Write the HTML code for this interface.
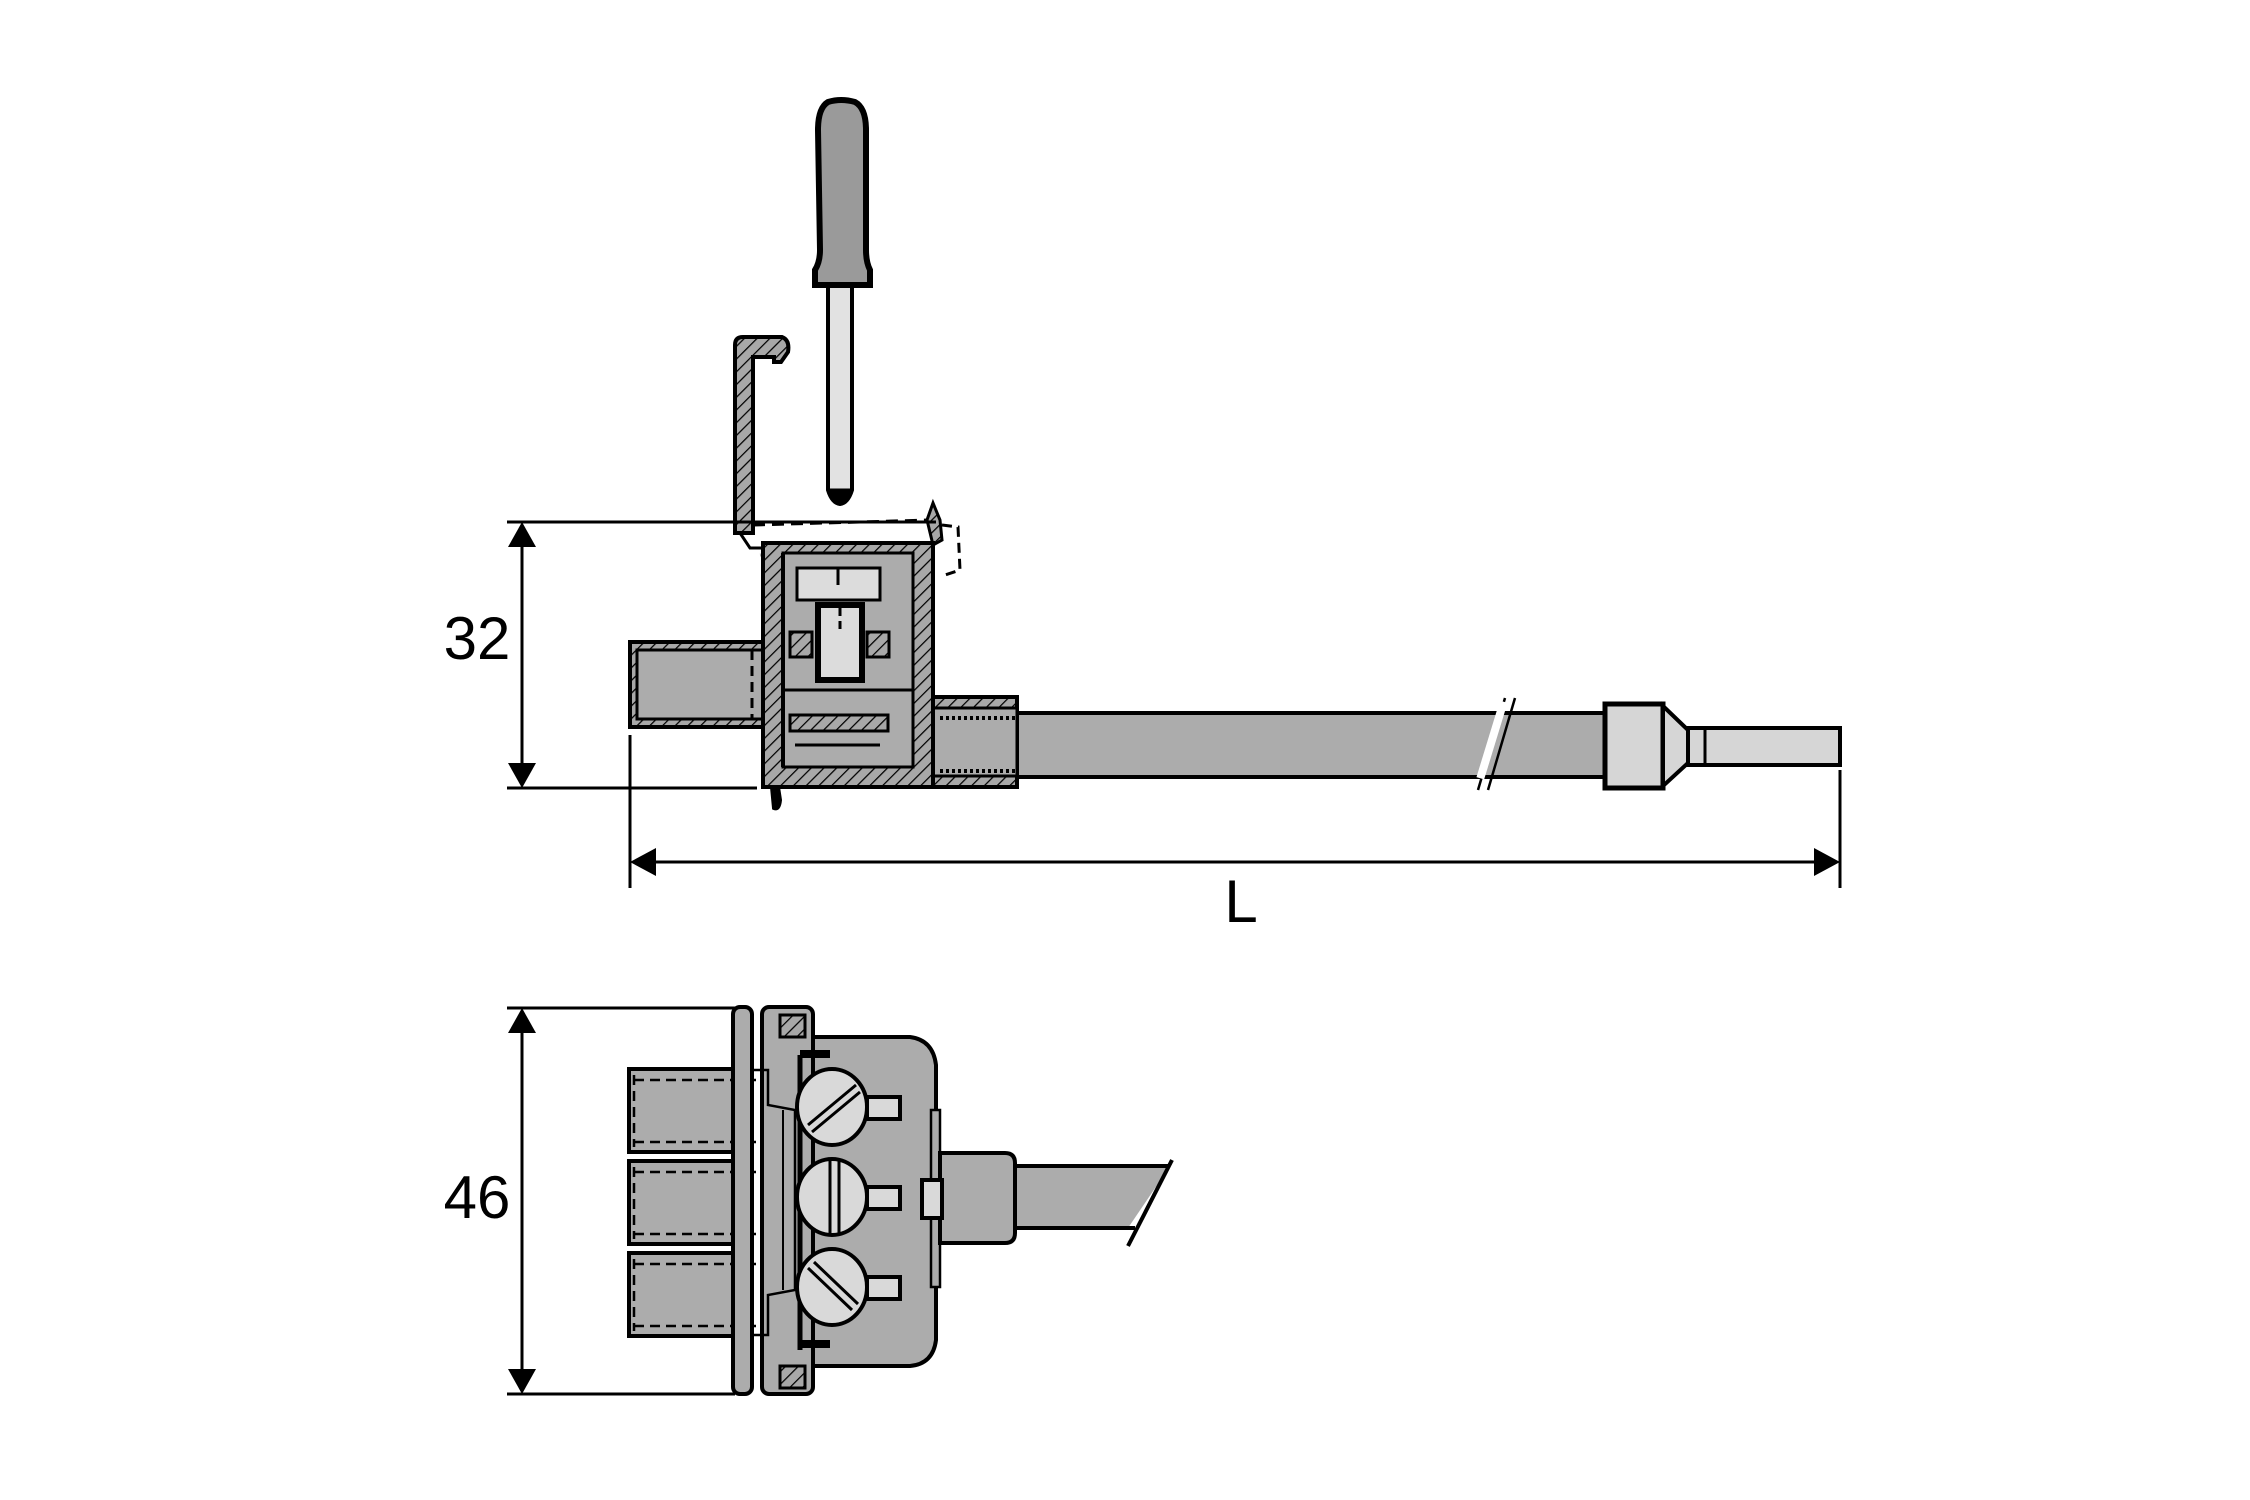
<!DOCTYPE html>
<html><head><meta charset="utf-8"><style>
html,body{margin:0;padding:0;background:#fff}
svg{display:block}
text{font-family:"Liberation Sans",sans-serif;fill:#000}
</style></head><body>
<svg width="2250" height="1500" viewBox="0 0 2250 1500" xmlns="http://www.w3.org/2000/svg">
<defs>
<pattern id="h" patternUnits="userSpaceOnUse" width="9" height="9" patternTransform="rotate(45)">
<rect width="9" height="9" fill="#a8a8a8"/><line x1="0" y1="0" x2="0" y2="9" stroke="#000" stroke-width="2.5"/>
</pattern>
</defs>
<g stroke="#000" stroke-width="3" fill="none">
<path d="M828 102 Q841 98 855 102 Q866 108 866 130 L866 250 Q866 262 870 270 L870 285 L815 285 L815 270 Q820 262 820 250 L818 130 Q818 108 828 102 Z" fill="#9a9a9a" stroke-width="6"/>
<path d="M828 286 L852 286 L852 490 Q848 503 840 504 Q832 503 828 490 Z" fill="#e2e2e2" stroke-width="4"/>
<path d="M828 490 Q832 503 840 504 Q848 503 852 490 Z" fill="#000"/>
<path d="M735 533 L735 345 Q735 337 743 337 L782 337 Q790 340 788 352 L781 362 L774 362 L774 357 L753 357 L753 533 Z" fill="url(#h)" stroke-width="4"/>
<path d="M753 525 L930 520 L933 550 L760 555" stroke-dasharray="12,7"/>
<path d="M933 503 L940 520 L942 540 L933 545 L927 520 Z" fill="url(#h)"/>
<path d="M942 525 L958 527 L960 570 L945 575" stroke-dasharray="10,6"/>
<path d="M740 533 L750 548 L763 548"/>
<line x1="507" y1="522" x2="936" y2="522"/>
<line x1="507" y1="788" x2="757" y2="788"/>
<line x1="522" y1="540" x2="522" y2="770"/>
<line x1="630" y1="735" x2="630" y2="888"/>
<line x1="1840" y1="770" x2="1840" y2="888"/>
<line x1="650" y1="862" x2="1820" y2="862"/>
<line x1="507" y1="1008" x2="735" y2="1008"/>
<line x1="507" y1="1394" x2="735" y2="1394"/>
<line x1="522" y1="1025" x2="522" y2="1377"/>
</g>
<g fill="#000">
<polygon points="522,522 508,547 536,547"/>
<polygon points="522,788 508,763 536,763"/>
<polygon points="630,862 656,848 656,876"/>
<polygon points="1840,862 1814,848 1814,876"/>
<polygon points="522,1008 508,1033 536,1033"/>
<polygon points="522,1394 508,1369 536,1369"/>
</g>
<text x="477" y="659" font-size="60" text-anchor="middle">32</text>
<text x="1241" y="922" font-size="60" text-anchor="middle">L</text>
<text x="477" y="1218" font-size="60" text-anchor="middle">46</text>

<g stroke="#000" stroke-width="4">
<rect x="630" y="642" width="133" height="85" fill="url(#h)"/>
<rect x="637" y="650" width="126" height="69" fill="#acacac" stroke-width="3"/>
<line x1="752" y1="650" x2="752" y2="719" stroke-dasharray="10,6" stroke-width="3"/>
<rect x="1010" y="713" width="598" height="64" fill="#acacac"/>
<path d="M1505 698 L1478 790 M1515 698 L1488 790" stroke-width="2.5"/>
<rect x="1488" y="700" width="8" height="80" fill="#fff" stroke="none" transform="rotate(17 1492 740)"/>
<rect x="1605" y="704" width="58" height="84" fill="#d6d6d6" stroke-width="5"/>
<path d="M1663 706 L1688 730 L1688 763 L1663 786 Z" fill="#d6d6d6"/>
<rect x="1688" y="728" width="152" height="37" fill="#d6d6d6"/>
<line x1="1705" y1="728" x2="1705" y2="765" stroke-width="3"/>
<rect x="930" y="697" width="87" height="90" fill="url(#h)"/>
<rect x="930" y="708" width="87" height="68" fill="#acacac" stroke-width="3"/>
<line x1="940" y1="718" x2="1017" y2="718" stroke-dasharray="3,3" stroke-width="4"/>
<line x1="940" y1="771" x2="1017" y2="771" stroke-dasharray="3,3" stroke-width="4"/>
<path d="M763 543 L933 543 L933 787 L763 787 Z" fill="url(#h)"/>
<rect x="783" y="553" width="130" height="214" fill="#acacac" stroke-width="3"/>
<rect x="797" y="568" width="83" height="32" fill="#dcdcdc" stroke-width="3"/>
<line x1="838" y1="568" x2="838" y2="585" stroke-width="3"/>
<rect x="818" y="605" width="44" height="75" fill="#dcdcdc" stroke-width="6"/>
<line x1="840" y1="608" x2="840" y2="630" stroke-dasharray="8,5" stroke-width="3"/>
<rect x="790" y="632" width="22" height="25" fill="url(#h)" stroke-width="3"/>
<rect x="867" y="632" width="22" height="25" fill="url(#h)" stroke-width="3"/>
<rect x="790" y="715" width="98" height="16" fill="url(#h)" stroke-width="3"/>
<line x1="783" y1="690" x2="913" y2="690" stroke-width="3"/>
<line x1="795" y1="745" x2="880" y2="745" stroke-width="3"/>
<line x1="783" y1="553" x2="783" y2="767"/>
<path d="M778 787 L780 800 Q779 810 774 808 L772 787" fill="#000"/>
<rect x="629" y="1069" width="123" height="83" fill="#acacac"/>
<rect x="629" y="1161" width="123" height="83" fill="#acacac"/>
<rect x="629" y="1253" width="123" height="83" fill="#acacac"/>
<g stroke-dasharray="10,6" stroke-width="2.5" fill="none">
<line x1="634" y1="1080" x2="800" y2="1080"/><line x1="634" y1="1142" x2="800" y2="1142"/>
<line x1="634" y1="1172" x2="800" y2="1172"/><line x1="634" y1="1234" x2="800" y2="1234"/>
<line x1="634" y1="1264" x2="800" y2="1264"/><line x1="634" y1="1326" x2="800" y2="1326"/>
<line x1="634" y1="1075" x2="634" y2="1147"/><line x1="634" y1="1167" x2="634" y2="1239"/><line x1="634" y1="1259" x2="634" y2="1331"/>
<line x1="905" y1="1160" x2="1015" y2="1160"/><line x1="905" y1="1234" x2="1015" y2="1234"/>
</g>
<rect x="733" y="1007" width="19" height="387" rx="7" fill="#acacac"/>
<rect x="762" y="1007" width="51" height="387" rx="7" fill="#acacac"/>
<path d="M813 1037 L910 1037 Q933 1040 936 1065 L936 1340 Q933 1364 910 1366 L813 1366 Z" fill="#acacac"/>
<path d="M752 1070 L768 1070 L768 1105 L795 1110 L795 1290 L768 1295 L768 1335 L752 1335" fill="none" stroke-width="2.5"/>
<line x1="783" y1="1110" x2="783" y2="1290" stroke-width="2"/>
<line x1="800" y1="1055" x2="800" y2="1350" stroke-width="5"/>
<rect x="800" y="1050" width="30" height="8" fill="#000" stroke="none"/>
<rect x="800" y="1340" width="30" height="8" fill="#000" stroke="none"/>
<rect x="780" y="1015" width="25" height="22" fill="url(#h)" stroke-width="3"/>
<rect x="780" y="1366" width="25" height="22" fill="url(#h)" stroke-width="3"/>
<g fill="#d9d9d9" stroke-width="4">
<rect x="867" y="1097" width="33" height="22"/><rect x="867" y="1187" width="33" height="22"/><rect x="867" y="1277" width="33" height="22"/>
<ellipse cx="832" cy="1107" rx="35" ry="38"/>
<ellipse cx="832" cy="1197" rx="35" ry="38"/>
<ellipse cx="832" cy="1287" rx="35" ry="38"/>
</g>
<line x1="808" y1="1125" x2="856" y2="1085" stroke-width="3"/><line x1="812" y1="1132" x2="860" y2="1092" stroke-width="3"/>
<line x1="830" y1="1160" x2="830" y2="1234" stroke-width="3"/><line x1="839" y1="1160" x2="839" y2="1234" stroke-width="3"/>
<line x1="808" y1="1268" x2="852" y2="1310" stroke-width="3"/><line x1="814" y1="1262" x2="858" y2="1304" stroke-width="3"/>
<rect x="931" y="1110" width="9" height="177" fill="#acacac" stroke-width="2.5"/>
<path d="M1015 1166 L1170 1166 L1128 1228 L1015 1228 Z" fill="#acacac" stroke="none"/>
<line x1="1015" y1="1166" x2="1170" y2="1166"/><line x1="1015" y1="1228" x2="1135" y2="1228"/>
<line x1="1172" y1="1160" x2="1128" y2="1246"/>
<path d="M940 1153 L1005 1153 Q1015 1153 1015 1163 L1015 1233 Q1015 1243 1005 1243 L940 1243 Z" fill="#acacac"/>
<rect x="922" y="1180" width="20" height="38" fill="#d9d9d9" stroke-width="4"/>
</g>
</svg>
</body></html>
